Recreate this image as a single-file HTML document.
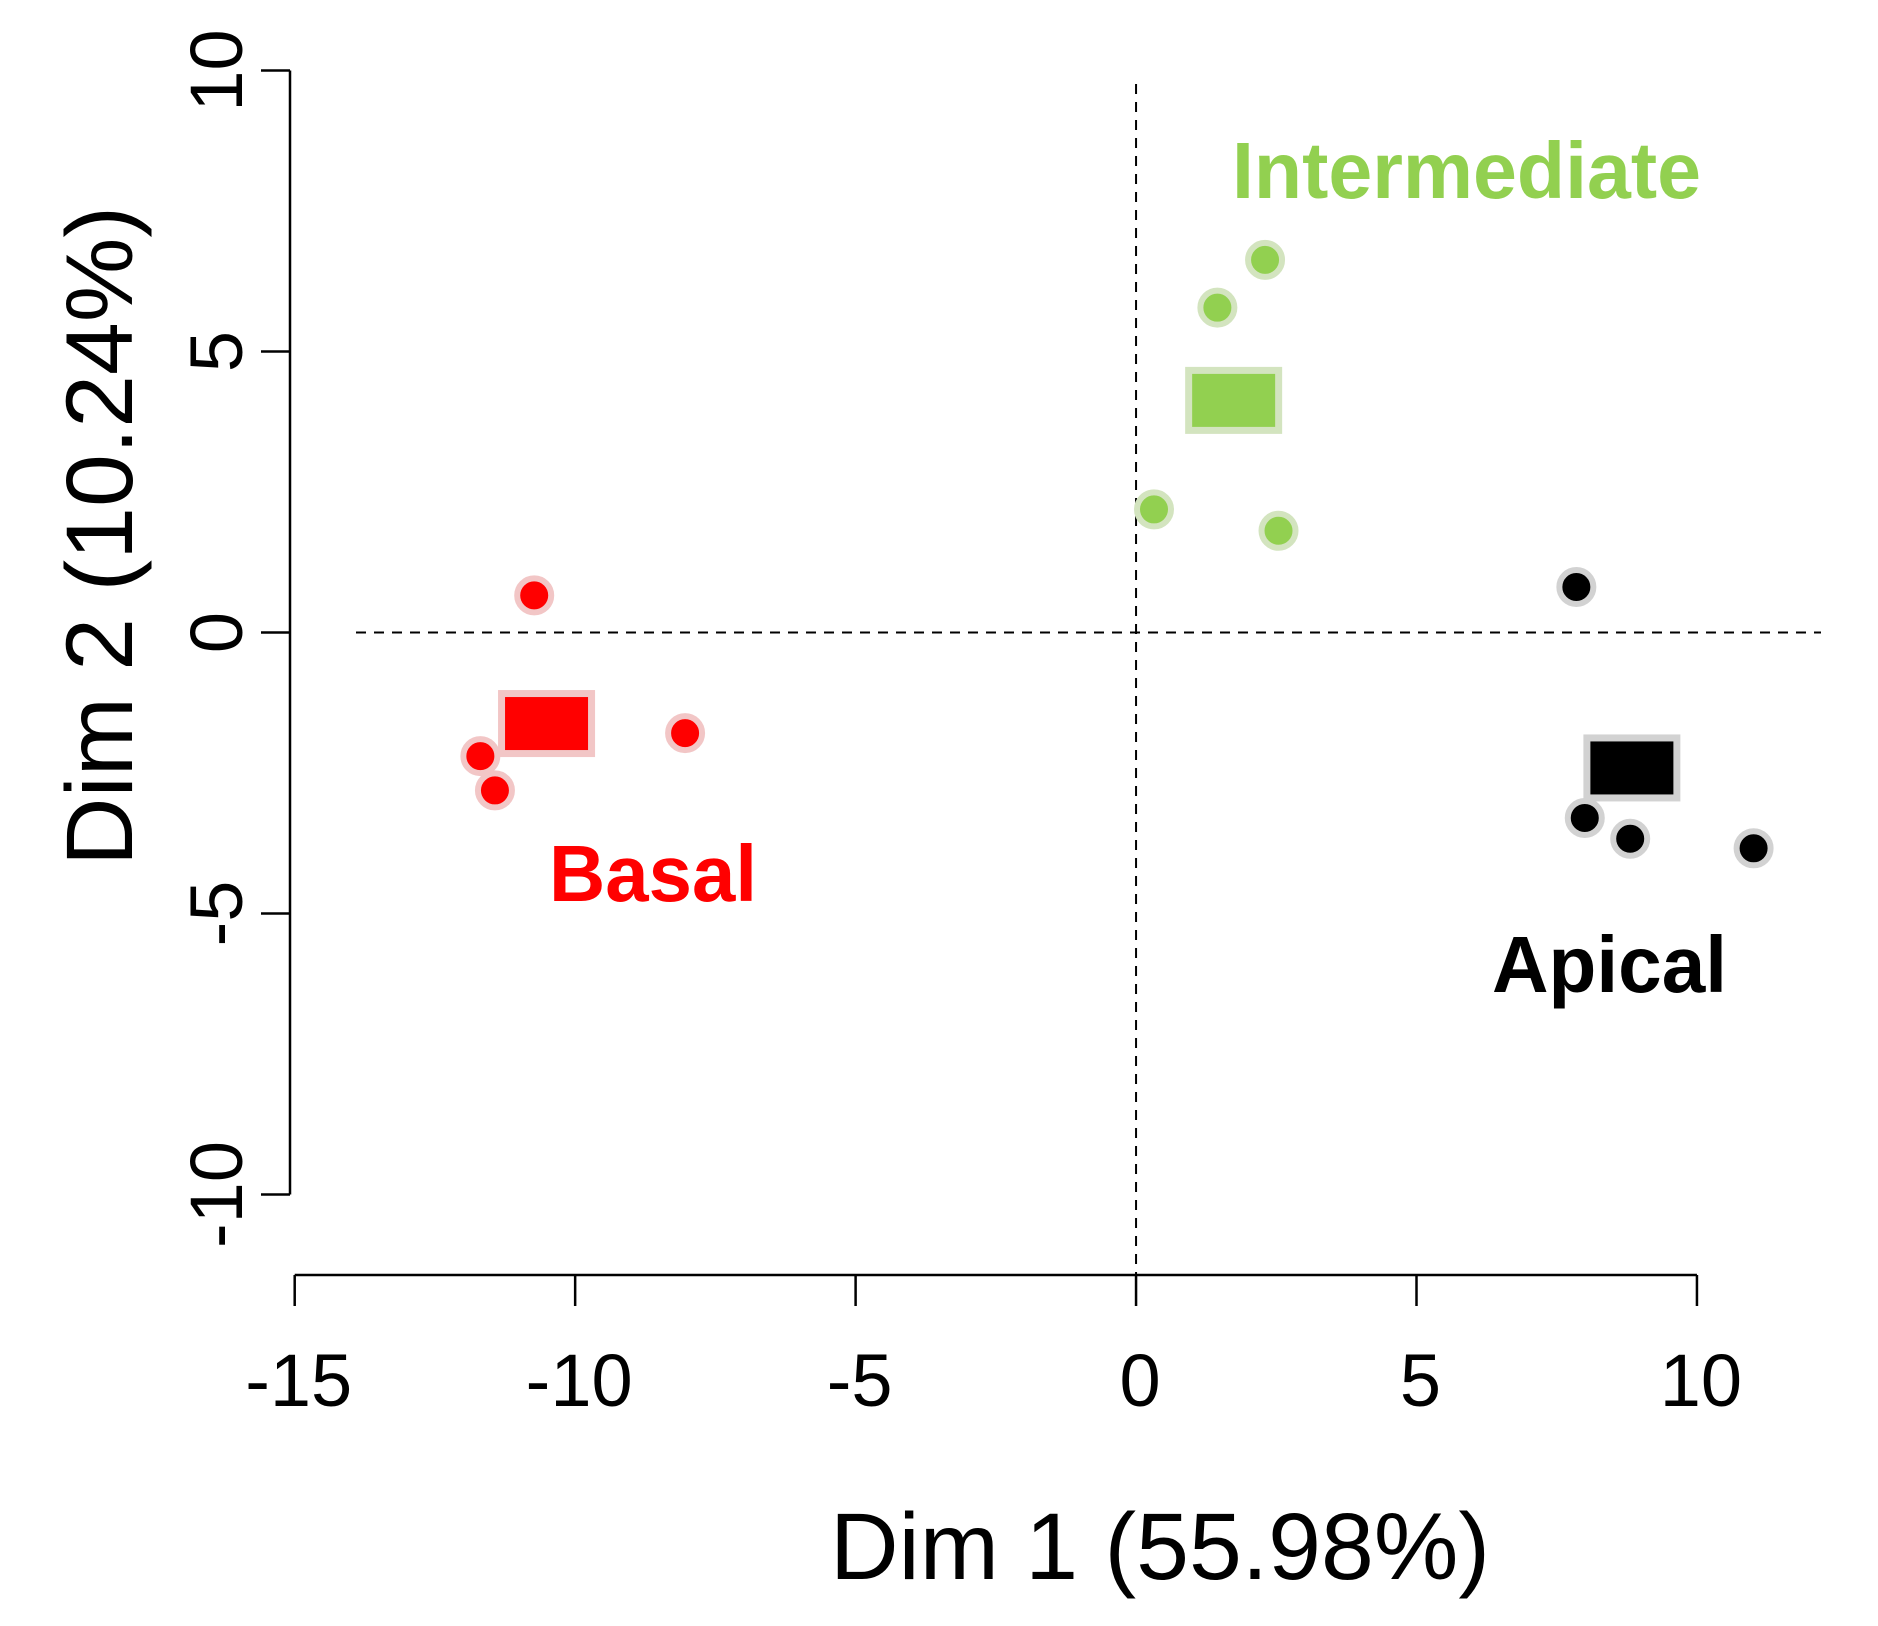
<!DOCTYPE html>
<html><head><meta charset="utf-8"><style>html,body{margin:0;padding:0;background:#fff}svg{display:block}</style></head>
<body>
<svg id="chart" width="1878" height="1626" viewBox="0 0 1878 1626" xmlns="http://www.w3.org/2000/svg" font-family="Liberation Sans, Arial, sans-serif">
<g id="axes"></g>
<g id="marks"></g>
</svg>
<script>
const xTicks = [-15, -10, -5, 0, 5, 10];
const yTicks = [-10, -5, 0, 5, 10];
const groups = ["Basal", "Intermediate", "Apical"];
const basalX = [-10.73, -8.04, -11.69, -11.43];
const basalY = [0.66, -1.79, -2.20, -2.81];
const interX = [2.30, 1.45, 0.32, 2.54];
const interY = [6.63, 5.78, 2.19, 1.81];
const apicalX = [7.85, 8.00, 8.81, 11.01];
const apicalY = [0.81, -3.30, -3.67, -3.84];
const centroidX = [-10.51, 1.74, 8.84];
const centroidY = [-1.62, 4.13, -2.41];

const NS = "http://www.w3.org/2000/svg";
function X(v){ return 294.7 + (v + 15) * 56.09; }
function Y(v){ return 632.5 - v * 56.2; }
function mk(tag, attrs, parent){
  const e = document.createElementNS(NS, tag);
  for (const k in attrs) e.setAttribute(k, attrs[k]);
  parent.appendChild(e);
  return e;
}
const axes = document.getElementById('axes');
const marks = document.getElementById('marks');

let l = mk('line', {x1:290, y1:Y(10), x2:290, y2:Y(-10), stroke:'#000', 'stroke-width':2.5}, axes);


yTicks.forEach(t => {
  const tk = mk('line', {x1:261, y1:Y(t), x2:290, y2:Y(t), stroke:'#000', 'stroke-width':2.5}, axes);
  
  
  const tx = mk('text', {x:0, y:0, 'font-size':74, 'text-anchor':'middle', transform:`translate(242,${Y(t)}) rotate(-90)`}, axes);
  tx.textContent = t;
  
  
});
l = mk('line', {x1:X(-15), y1:1275, x2:X(10), y2:1275, stroke:'#000', 'stroke-width':2.5}, axes);


xTicks.forEach(t => {
  const tk = mk('line', {x1:X(t), y1:1275, x2:X(t), y2:1306, stroke:'#000', 'stroke-width':2.5}, axes);
  
  
  const tx = mk('text', {x:X(t) + 4, y:1406, 'font-size':74, 'text-anchor':'middle'}, axes);
  tx.textContent = t;
  
  
});
let tt = mk('text', {x:1160, y:1579, 'font-size':95, 'text-anchor':'middle'}, axes);
tt.textContent = 'Dim 1 (55.98%)';


tt = mk('text', {x:0, y:0, 'font-size':95, 'text-anchor':'middle', transform:'translate(132,536) rotate(-90)'}, axes);
tt.textContent = 'Dim 2 (10.24%)';


l = mk('line', {x1:356, y1:Y(0), x2:1821, y2:Y(0), stroke:'#000', 'stroke-width':2, 'stroke-dasharray':'10,8'}, axes);


l = mk('line', {x1:X(0), y1:84, x2:X(0), y2:1275, stroke:'#000', 'stroke-width':2, 'stroke-dasharray':'10,8'}, axes);



const colors = ['#ff0000', '#92d050', '#000000'];
const halos = ['#f2c6c6', '#d3e4bf', '#d2d2d2'];
const series = [[basalX, basalY], [interX, interY], [apicalX, apicalY]];
series.forEach((s, gi) => {
  s[0].forEach((xv, i) => {
    const c = mk('circle', {cx:X(xv), cy:Y(s[1][i]), r:17, fill:colors[gi], stroke:halos[gi], 'stroke-width':6}, marks);
    
    
  });
  const r = mk('rect', {x:X(centroidX[gi]) - 45, y:Y(centroidY[gi]) - 30, width:90, height:60, fill:colors[gi], stroke:halos[gi], 'stroke-width':7}, marks);
  
  
});
const labelPos = [[549, 901, 208], [1232, 198, 469], [1492, 992, 235]];
groups.forEach((g, gi) => {
  const t = mk('text', {x:labelPos[gi][0], y:labelPos[gi][1], 'font-size':80, 'font-weight':'bold', fill:colors[gi], textLength:labelPos[gi][2], lengthAdjust:'spacingAndGlyphs'}, marks);
  t.textContent = g;
  
  
});
</script>
</body></html>
